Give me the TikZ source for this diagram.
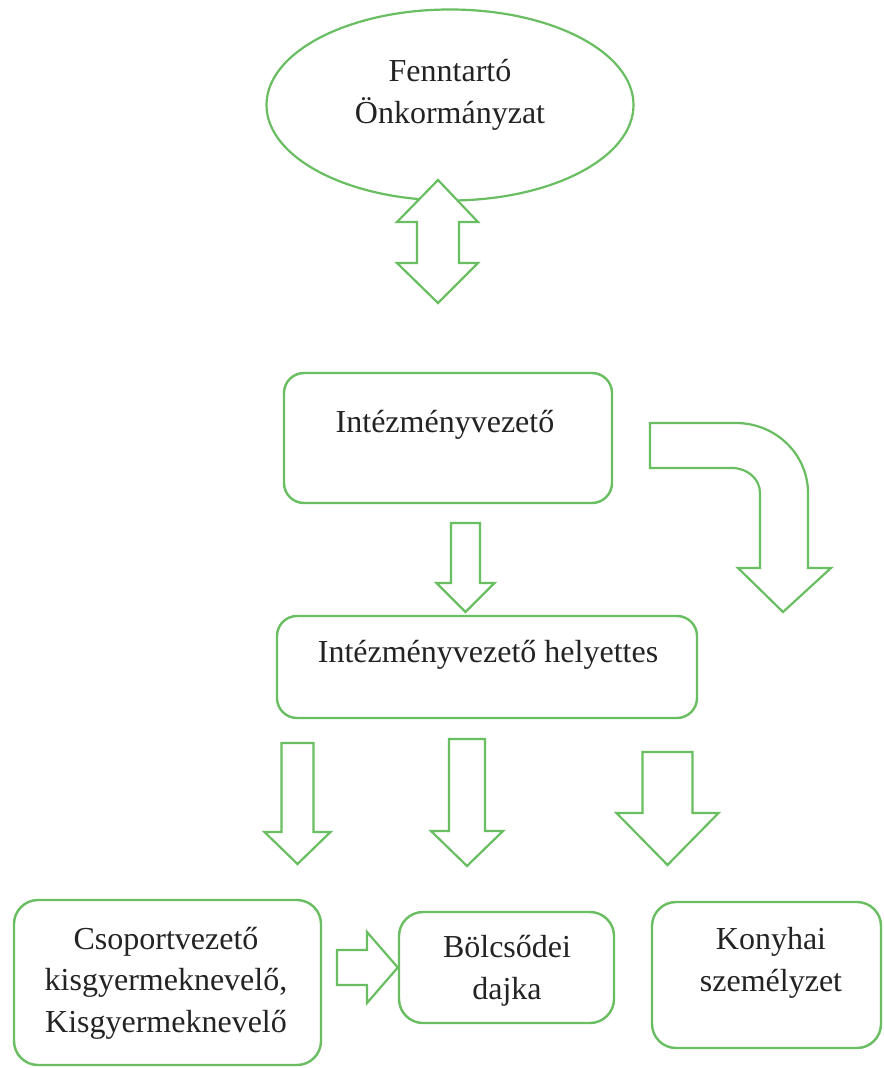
\documentclass[tikz,border=0pt]{standalone}
\usepackage{fontspec}
\setmainfont{Liberation Serif}
\usetikzlibrary{shapes.geometric}

\definecolor{orggreen}{RGB}{104,190,96}
\definecolor{orgtext}{RGB}{35,35,35}

\tikzset{
  orgbox/.style={draw=orggreen, line width=1.2pt, rounded corners=10pt,
    inner sep=0pt, fill=white},
  orgtext/.style={text=orgtext, align=center, inner sep=0pt,
    font=\fontsize{16}{20.8}\selectfont},
  blockarrow/.style={draw=orggreen, line width=1.1pt, fill=white,
    line join=miter}
}

% x center, shaft half width, head half width, top, head, tip
\newcommand{\blockdown}[6]{%
  \draw[blockarrow] (#1-#2,#4) -- (#1+#2,#4) -- (#1+#2,#5) -- (#1+#3,#5)
    -- (#1,#6) -- (#1-#3,#5) -- (#1-#2,#5) -- cycle;}

\begin{document}
\begin{tikzpicture}[x=0.5pt,y=-0.5pt]
\useasboundingbox (0,0) rectangle (883,1068);

\node[ellipse, draw=orggreen, line width=1.1pt, inner sep=0pt,
  minimum width=183.5pt, minimum height=95.5pt] (fenntarto) at (450,105) {};
\node[orgtext] (fenntartotext) at (450,95) {Fenntartó\\Önkormányzat};

\draw[blockarrow] (438,180) -- (478,222) -- (459,222) -- (459,263)
  -- (478,263) -- (438,303) -- (397,263) -- (417,263) -- (417,222)
  -- (397,222) -- cycle;

\node[orgbox, minimum width=164pt, minimum height=65pt] (vezeto) at (448,438) {};
\node[orgtext] (vezetotext) at (445,425) {Intézményvezető};

\draw[blockarrow] (650,423) -- (736,423)
  .. controls (775.7,423) and (808,454.4) .. (808,493)
  -- (808,568) -- (831,568) -- (783,612) -- (738,568) -- (760,568)
  -- (760,493) .. controls (760,479.2) and (747.5,468) .. (732,468)
  -- (650,468) -- cycle;

\blockdown{465.5}{14.5}{29}{523}{583}{612}

\node[orgbox, minimum width=210pt, minimum height=51pt] (helyettes) at (487,667) {};
\node[orgtext] (helyettestext) at (488,655) {Intézményvezető helyettes};

\blockdown{297.5}{16}{33}{743}{832}{864}
\blockdown{467}{18}{36}{739}{831}{866}
\blockdown{667.5}{25}{51}{752}{813}{865}

\node[orgbox, rounded corners=12pt, minimum width=153.5pt, minimum height=82.5pt]
  (csoport) at (167.5,982.5) {};
\node[orgtext] (csoporttext) at (166,983)
  {Csoportvezető\\kisgyermeknevelő,\\Kisgyermeknevelő};

\node[orgbox, rounded corners=12pt, minimum width=107.5pt, minimum height=55.5pt]
  (dajka) at (506.5,967.5) {};
\node[orgtext] (dajkatext) at (507,971) {Bölcsődei\\dajka};

\node[orgbox, rounded corners=12pt, minimum width=114.5pt, minimum height=73pt]
  (konyha) at (766.5,975) {};
\node[orgtext] (konyhatext) at (771,963) {Konyhai\\személyzet};

\draw[blockarrow] (337,950) -- (367,950) -- (367,932) -- (dajka.west)
  -- (367,1003) -- (367,985) -- (337,985) -- cycle;
\end{tikzpicture}
\end{document}
